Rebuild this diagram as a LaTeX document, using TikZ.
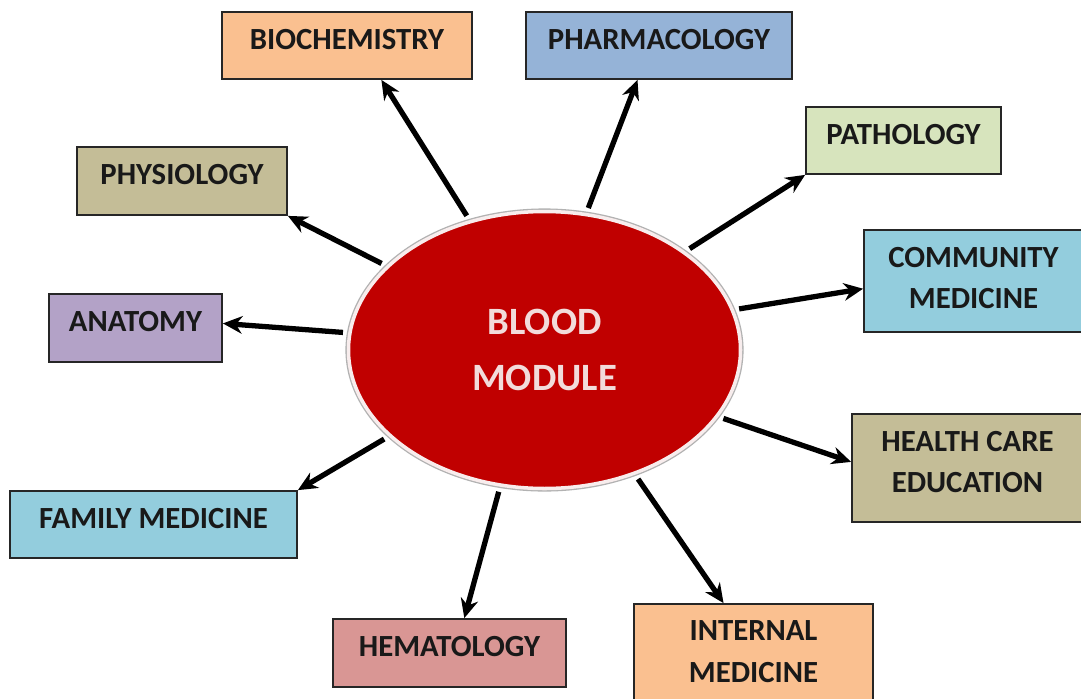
\documentclass[tikz,border=0pt]{standalone}
\usepackage{fontspec}
\setmainfont{Carlito}
\usetikzlibrary{arrows.meta,positioning,shapes.geometric}
\definecolor{bloodred}{HTML}{C00000}
\definecolor{bloodtext}{HTML}{F2DCDB}
\definecolor{peach}{HTML}{FAC090}
\definecolor{steelblue}{HTML}{95B3D7}
\definecolor{sage}{HTML}{D7E4BD}
\definecolor{aqua}{HTML}{93CDDD}
\definecolor{khaki}{HTML}{C4BD97}
\definecolor{lilac}{HTML}{B3A2C7}
\definecolor{rose}{HTML}{D99694}
\newcommand{\boxtxt}[3]{\parbox[c][#2][t]{#1}{\centering\vspace*{0.34cm}#3}}

\begin{document}
\begin{tikzpicture}[
    subj/.style={draw=black!85, line width=1pt, inner sep=0pt, font=\fontsize{17.5}{23.5}\selectfont\bfseries, text=black!90},
    link/.style={line width=3pt, -{Stealth[length=11pt,width=10pt]}, shorten <=3pt}
  ]
    % Canvas
    \path[use as bounding box, fill=white] (0,0) rectangle (21.62,-13.96);

    % Centre
    \node[ellipse, fill=bloodred, draw=bloodtext!50!white, line width=2pt, preaction={draw=black!30, line width=3.5pt},
      minimum width=7.84cm, minimum height=5.54cm, inner sep=0pt, align=center, text=bloodtext,
      font=\fontsize{22}{32}\selectfont\bfseries] (blood) at (10.89,-7.0) {BLOOD\\MODULE};

    % Subjects
    \node[subj, fill=peach] (bio) at (6.94,-0.91) {\boxtxt{5cm}{1.34cm}{BIOCHEMISTRY}};
    \node[subj, fill=steelblue] (pharma) at (13.18,-0.91) {\boxtxt{5.32cm}{1.34cm}{PHARMACOLOGY}};
    \node[subj, fill=sage] (patho) at (18.07,-2.81) {\boxtxt{3.9cm}{1.34cm}{PATHOLOGY}};
    \node[subj, fill=aqua] (comm) at (19.47,-5.62) {\boxtxt{4.38cm}{2.04cm}{COMMUNITY\\MEDICINE}};
    \node[subj, fill=khaki] (physio) at (3.64,-3.62) {\boxtxt{4.2cm}{1.36cm}{PHYSIOLOGY}};
    \node[subj, fill=lilac] (anat) at (2.71,-6.56) {\boxtxt{3.46cm}{1.36cm}{ANATOMY}};
    \node[subj, fill=aqua] (family) at (3.07,-10.49) {\boxtxt{5.74cm}{1.34cm}{FAMILY MEDICINE}};
    \node[subj, fill=rose] (hema) at (8.99,-13.06) {\boxtxt{4.66cm}{1.36cm}{HEMATOLOGY}};
    \node[subj, fill=khaki] (health) at (19.35,-9.36) {\boxtxt{4.62cm}{2.16cm}{HEALTH CARE\\EDUCATION}};
    \node[subj, fill=peach] (internal) at (15.07,-13.1) {\boxtxt{4.78cm}{2.04cm}{INTERNAL\\MEDICINE}};

    % Arrows
    \draw[link] (blood.120) -- (bio.-45);
    \draw[link] (blood.152) -- (physio.south east);
    \draw[link] (blood.175) -- (anat.3);
    \draw[link] (blood.73) -- (pharma.-122);
    \draw[link] (blood.35) -- (patho.south west);
    \draw[link] (blood.12) -- (comm.184);
    \draw[link] (blood.209) -- (family.north east);
    \draw[link] (blood.252) -- (hema.67);
    \draw[link] (blood.-21) -- (health.177);
    \draw[link] (blood.-54) -- (internal.120);
\end{tikzpicture}
\end{document}
